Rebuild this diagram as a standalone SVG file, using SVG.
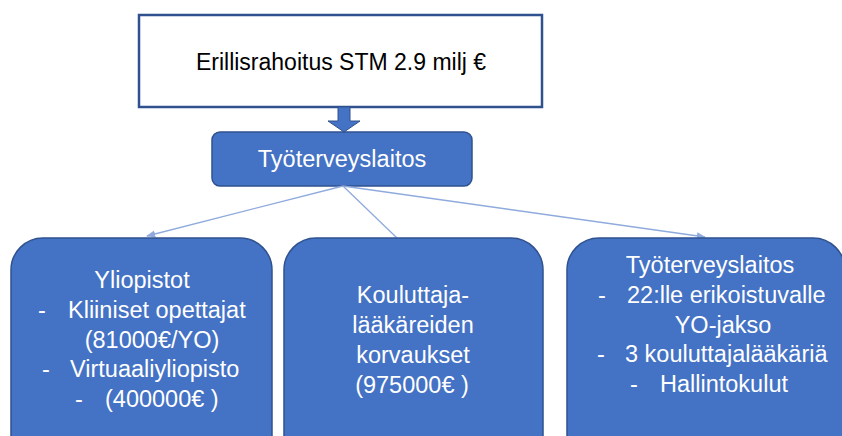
<svg xmlns="http://www.w3.org/2000/svg" width="842" height="436" viewBox="0 0 842 436">
  <style>
    .node { fill: #4472C4; stroke: #2F528F; stroke-width: 1.5; }
    .wt { fill: #FFFFFF; font-family: "Liberation Sans", Arial, sans-serif; font-size: 23.5px; }
    .bt { fill: #000000; font-family: "Liberation Sans", Arial, sans-serif; font-size: 23px; }
    .conn { stroke: #8FAADC; stroke-width: 1.3; fill: none; }
  </style>
  <defs>
    <marker id="ah" viewBox="0 0 10 10" refX="9" refY="5" markerWidth="7" markerHeight="7" orient="auto">
      <path d="M0,1 L10,5 L0,9 z" fill="#8FAADC"/>
    </marker>
  </defs>
  <rect width="842" height="436" fill="#FFFFFF"/>

  <g id="top">
    <rect x="139" y="15" width="403" height="92" fill="#FFFFFF" stroke="#2F528F" stroke-width="2.5"/>
    <text class="bt" x="341" y="70" text-anchor="middle">Erillisrahoitus STM 2.9 milj €</text>
  </g>

  <g id="blockarrow">
    <path d="M338,107 L350,107 L350,121 L360,121 L344,132 L328,121 L338,121 Z" fill="#4472C4" stroke="#2F528F" stroke-width="1"/>
  </g>

  <g id="ttl">
    <rect class="node" x="212" y="132" width="260" height="54" rx="8"/>
    <text class="wt" x="342" y="167" text-anchor="middle">Työterveyslaitos</text>
  </g>

  <g id="connectors">
    <line class="conn" x1="343" y1="186" x2="147" y2="236" marker-end="url(#ah)"/>
    <line class="conn" x1="343" y1="186" x2="397" y2="238"/>
    <line class="conn" x1="343" y1="186" x2="705" y2="237" marker-end="url(#ah)"/>
  </g>

  <g id="yliopistot">
    <rect class="node" x="11" y="238" width="261" height="230" rx="32"/>
    <text class="wt" x="142" y="288" text-anchor="middle">Yliopistot</text>
    <text class="wt" x="38" y="318">-</text>
    <text class="wt" x="68" y="318">Kliiniset opettajat</text>
    <text class="wt" x="152" y="348" text-anchor="middle">(81000€/YO)</text>
    <text class="wt" x="42" y="377">-</text>
    <text class="wt" x="70" y="377">Virtuaaliyliopisto</text>
    <text class="wt" x="75" y="407">-</text>
    <text class="wt" x="105" y="407">(400000€ )</text>
  </g>

  <g id="kouluttaja">
    <rect class="node" x="284" y="238" width="259" height="230" rx="32"/>
    <text class="wt" x="413" y="303" text-anchor="middle">Kouluttaja-</text>
    <text class="wt" x="413" y="333" text-anchor="middle">lääkäreiden</text>
    <text class="wt" x="413" y="363" text-anchor="middle">korvaukset</text>
    <text class="wt" x="412" y="393" text-anchor="middle">(975000€ )</text>
  </g>

  <g id="ttl2">
    <rect class="node" x="567" y="238" width="278" height="230" rx="32"/>
    <text class="wt" x="710" y="273" text-anchor="middle">Työterveyslaitos</text>
    <text class="wt" x="598" y="303">-</text>
    <text class="wt" x="627" y="303">22:lle erikoistuvalle</text>
    <text class="wt" x="723" y="333" text-anchor="middle">YO-jakso</text>
    <text class="wt" x="597" y="362">-</text>
    <text class="wt" x="625" y="362">3 kouluttajalääkäriä</text>
    <text class="wt" x="630" y="392">-</text>
    <text class="wt" x="660" y="392">Hallintokulut</text>
  </g>
</svg>
